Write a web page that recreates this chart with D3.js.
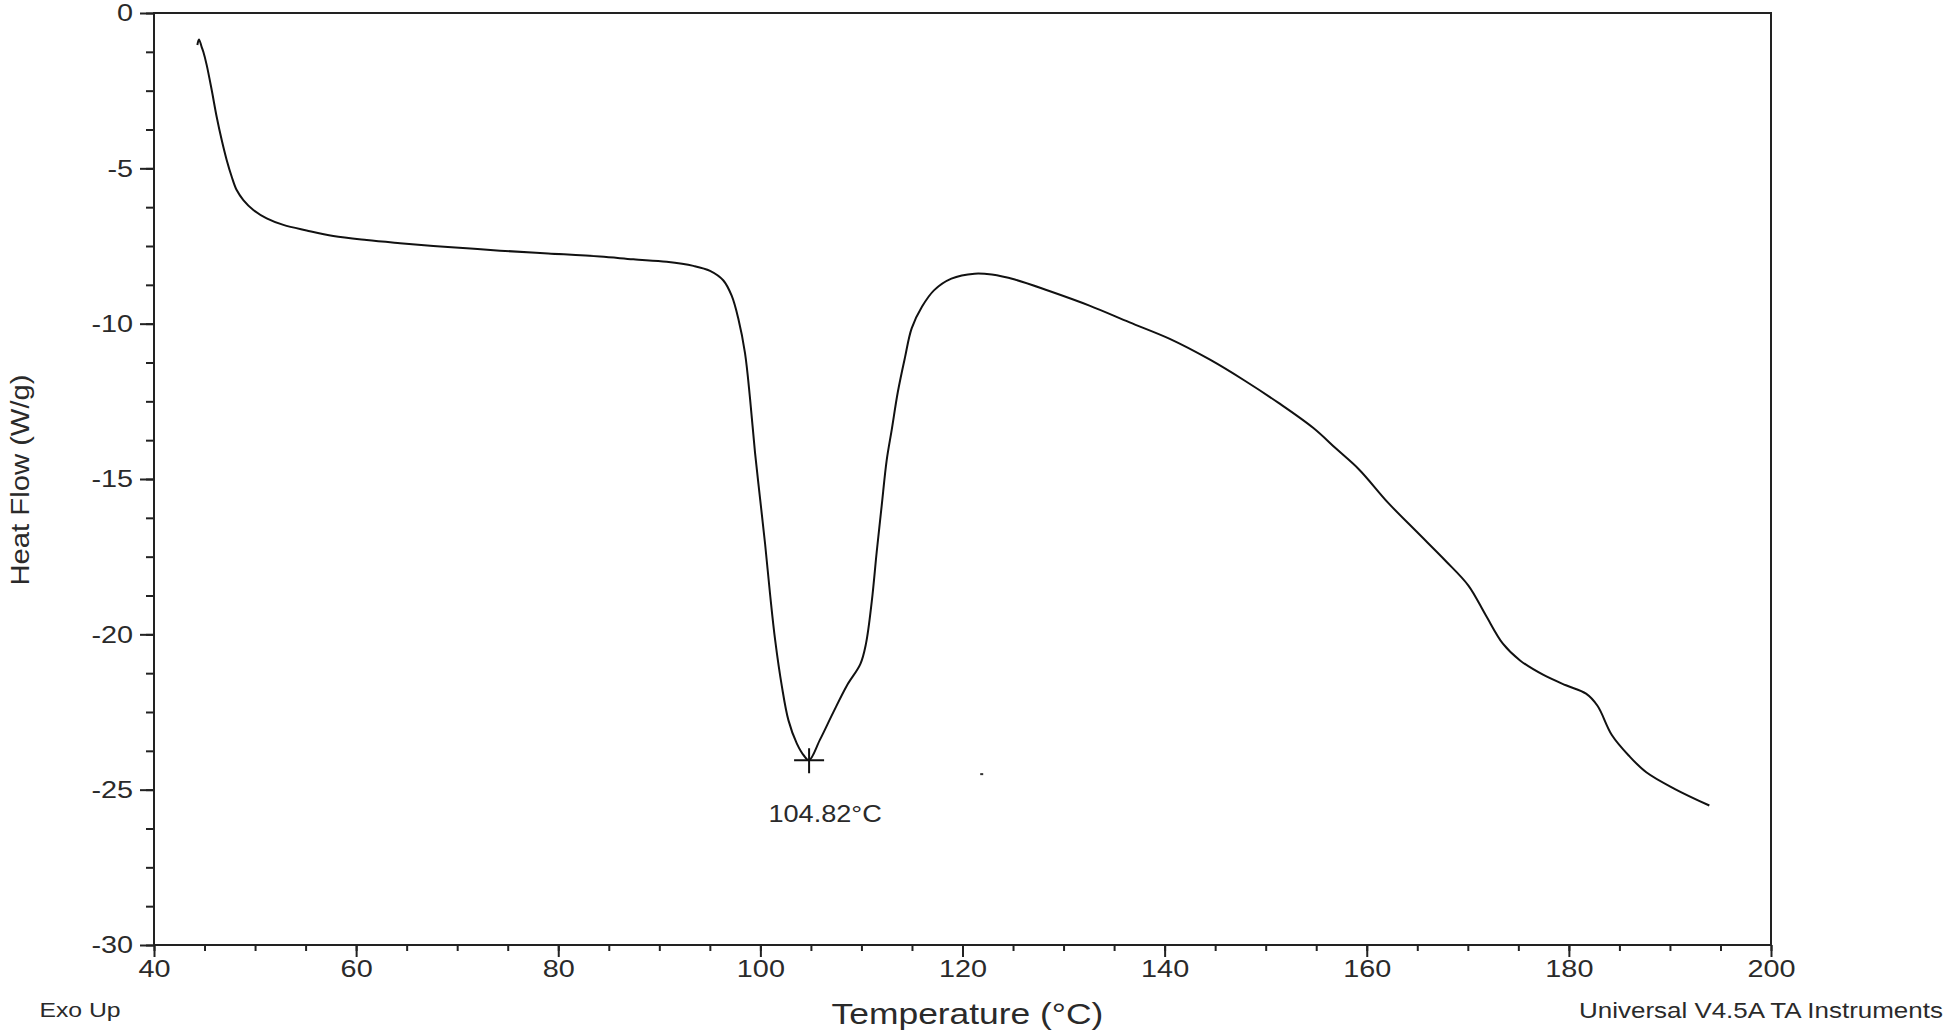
<!DOCTYPE html>
<html>
<head>
<meta charset="utf-8">
<script src="https://cdn.jsdelivr.net/npm/d3@7"></script>
<style>
body { margin: 0; background: #fff; }
svg { display: block; }
text { font-family: "Liberation Sans", Arial, sans-serif; fill: #2a2a2a; }
.wide { transform-box: fill-box; transform-origin: center; transform: scaleX(1.18); }
.ylab text { transform-box: fill-box; transform-origin: right center; transform: scaleX(1.2); }
.xlab text { transform-box: fill-box; transform-origin: center; transform: scaleX(1.2); }
.yrot { transform-box: fill-box; transform-origin: center; transform: rotate(-90deg) scaleX(1.17); }
</style>
</head>
<body>
<svg></svg>
<script>
var width = 1946;
var height = 1034;

// DSC trace
var temps = [44.29, 44.45, 44.72, 44.88, 45.21, 45.71, 46.2, 46.7, 47.19, 47.69, 48.18, 48.84, 49.83,
    51.15, 52.8, 55.1, 57.74, 61.04, 64.34, 67.64, 70.94, 74.24, 79.0, 84.13, 87.43, 90.73, 93.37,
    95.02, 96.34, 97.16, 97.82, 98.48, 98.98, 99.47, 99.97, 100.47, 100.96, 101.46, 102.12, 102.78,
    103.6, 104.3, 104.82, 105.9, 107.2, 108.54, 109.9, 110.45, 111.02, 111.51, 112.0, 112.5, 113.0,
    113.6, 114.3, 114.97, 116.0, 117.2, 118.9, 121.2, 122.9, 125.18, 128.59, 132.56, 136.54, 140.51,
    144.49, 147.9, 151.31, 154.72, 156.99, 159.26, 162.1, 164.95, 167.79, 170.06, 171.75, 173.47,
    175.17, 177.44, 179.71, 181.7, 182.83, 184.25, 185.95, 187.66, 190.5, 193.9];
var heatFlow = [-1.03, -0.85, -1.10, -1.25, -1.67, -2.48, -3.34, -4.09, -4.73, -5.27, -5.70, -6.02, -6.34,
    -6.61, -6.82, -7.00, -7.18, -7.31, -7.41, -7.50, -7.57, -7.65, -7.74, -7.84, -7.93, -8.01, -8.14,
    -8.30, -8.61, -9.10, -9.84, -10.95, -12.42, -14.15, -15.63, -17.10, -18.71, -20.18, -21.66, -22.77,
    -23.51, -23.9, -24.05, -23.39, -22.52, -21.66, -20.95, -20.3, -18.95, -17.35, -15.87, -14.39, -13.41,
    -12.2, -11.1, -10.15, -9.45, -8.92, -8.55, -8.39, -8.42, -8.58, -8.95, -9.42, -9.96, -10.49,
    -11.16, -11.83, -12.56, -13.36, -14.03, -14.70, -15.76, -16.70, -17.63, -18.43, -19.37, -20.30,
    -20.84, -21.30, -21.64, -21.91, -22.30, -23.24, -23.91, -24.44, -24.98, -25.51];

var xTicks = [40, 60, 80, 100, 120, 140, 160, 180, 200];
var yTicks = [0, -5, -10, -15, -20, -25, -30];
var xMinor = d3.range(40, 201, 5);
var yMinor = d3.range(0, -30.01, -1.25);

var peak = {t: 104.82, hf: -24.05, label: "104.82°C"};
var speck = {t: 121.9, hf: -24.5};

var margin = {top: 13, right: 175, bottom: 89, left: 154};

var svg = d3.select("svg")
    .attr("width", width)
    .attr("height", height)

var x = d3.scaleLinear()
    .domain([40, 200])
    .range([margin.left, width - margin.right])

var y = d3.scaleLinear()
    .domain([-30, 0])
    .range([height - margin.bottom, margin.top])

// minor ticks first, then major ones with labels
svg.append("g")
    .attr("transform", "translate(0," + y(-30) + ")")
    .call(d3.axisBottom(x).tickValues(xMinor).tickSize(6).tickFormat(""))
    .call(g => g.select(".domain").remove())
    .call(g => g.selectAll("line").attr("stroke", "#222").attr("stroke-width", 2))

svg.append("g")
    .attr("class", "xlab")
    .attr("transform", "translate(0," + y(-30) + ")")
    .call(d3.axisBottom(x).tickValues(xTicks).tickSize(12).tickPadding(3).tickFormat(d3.format("d")))
    .call(g => g.select(".domain").remove())
    .call(g => g.selectAll("line").attr("stroke", "#222").attr("stroke-width", 2))
    .call(g => g.selectAll("text").style("font-size", "24px").attr("fill", "#2a2a2a"))

svg.append("g")
    .attr("transform", "translate(" + x(40) + ",0)")
    .call(d3.axisLeft(y).tickValues(yMinor).tickSize(8).tickFormat(""))
    .call(g => g.select(".domain").remove())
    .call(g => g.selectAll("line").attr("stroke", "#222").attr("stroke-width", 2))

svg.append("g")
    .attr("class", "ylab")
    .attr("transform", "translate(" + x(40) + ",0)")
    .call(d3.axisLeft(y).tickValues(yTicks).tickSize(14).tickPadding(7).tickFormat(d => d < 0 ? "-" + Math.abs(d) : d))
    .call(g => g.select(".domain").remove())
    .call(g => g.selectAll("line").attr("stroke", "#222").attr("stroke-width", 2))
    .call(g => g.selectAll("text").style("font-size", "24px").attr("fill", "#2a2a2a"))

// plot frame
svg.append("rect")
    .attr("x", x(40))
    .attr("y", y(0))
    .attr("width", x(200) - x(40))
    .attr("height", y(-30) - y(0))
    .attr("fill", "none")
    .attr("stroke", "#222")
    .attr("stroke-width", 2)

var line = d3.line()
    .curve(d3.curveCatmullRom.alpha(0.5))
    .x(d => x(d[0]))
    .y(d => y(d[1]))

svg.append("path")
    .datum(d3.zip(temps, heatFlow))
    .attr("d", line)
    .attr("fill", "none")
    .attr("stroke", "#111")
    .attr("stroke-width", 2)
    .attr("stroke-linejoin", "round")

// peak marker
var px = x(peak.t), py = y(peak.hf);
svg.append("path")
    .attr("d", "M" + (px - 15) + "," + py + "H" + (px + 15) + "M" + px + "," + (py - 12) + "V" + (py + 13))
    .attr("stroke", "#111")
    .attr("stroke-width", 2)

svg.append("text")
    .attr("class", "wide")
    .attr("x", px + 16)
    .attr("y", py + 62)
    .attr("text-anchor", "middle")
    .style("font-size", "23px")
    .text(peak.label)

svg.append("rect")
    .attr("x", x(speck.t) - 1.5)
    .attr("y", y(speck.hf) - 1)
    .attr("width", 3)
    .attr("height", 2)
    .attr("fill", "#333")

svg.append("text")
    .attr("class", "wide")
    .attr("x", (x(40) + x(200)) / 2 + 5)
    .attr("y", height - 10)
    .attr("text-anchor", "middle")
    .style("font-size", "30px")
    .text("Temperature (°C)")

svg.append("text")
    .attr("class", "yrot")
    .attr("x", 20)
    .attr("y", 480)
    .attr("text-anchor", "middle")
    .attr("dominant-baseline", "central")
    .style("font-size", "25px")
    .text("Heat Flow (W/g)")

svg.append("text")
    .attr("class", "wide")
    .attr("x", 80)
    .attr("y", height - 17)
    .attr("text-anchor", "middle")
    .style("font-size", "21px")
    .text("Exo Up")

svg.append("text")
    .attr("class", "wide")
    .attr("x", 1761)
    .attr("y", height - 16)
    .attr("text-anchor", "middle")
    .style("font-size", "22px")
    .text("Universal V4.5A TA Instruments")
</script>
</body>
</html>
